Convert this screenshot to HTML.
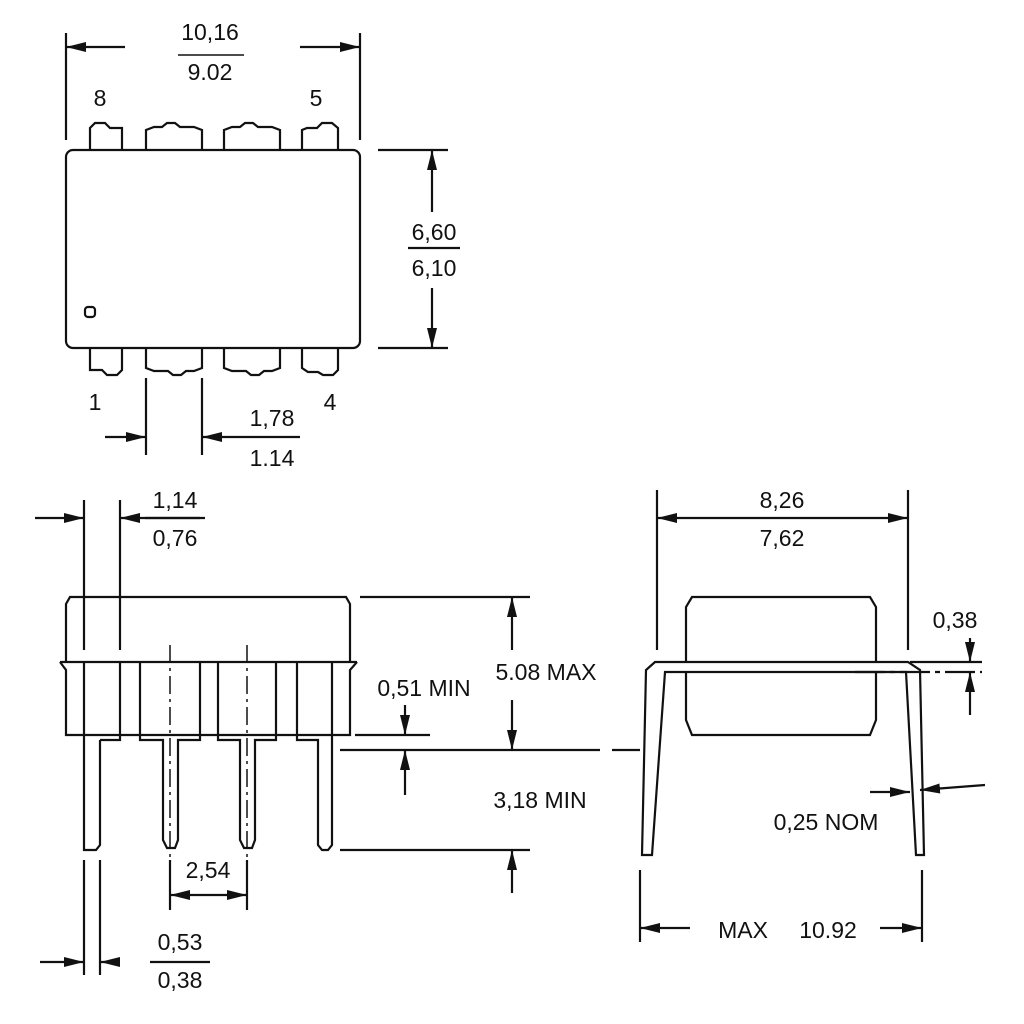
<!DOCTYPE html>
<html><head><meta charset="utf-8"><style>
html,body{margin:0;padding:0;background:#fff}
svg{display:block}
text{font-family:"Liberation Sans",sans-serif;font-size:23px;fill:#111;text-anchor:middle}
</style></head><body>
<svg width="1024" height="1024" viewBox="0 0 1024 1024" xmlns="http://www.w3.org/2000/svg">
<defs>
<marker id="a" viewBox="0 0 20 10" refX="20" refY="5" markerWidth="20" markerHeight="10" markerUnits="userSpaceOnUse" orient="auto-start-reverse"><path d="M0,0 L20,5 L0,10 z" fill="#111"/></marker>
</defs>
<g stroke="#111" stroke-width="2.2" fill="none">
<!-- TOP VIEW -->
<rect x="66" y="150" width="294" height="198" rx="7" fill="#fff"/>
<path d="M90,150 V128 l5,-5 h10 l5,5 h12 V150"/>
<path d="M146,150 V130 l8,-3 h8 l5,-4 h8 l5,4 h14 l8,3 V150"/>
<path d="M224,150 V130 l8,-3 h8 l5,-4 h8 l5,4 h14 l8,3 V150"/>
<path d="M302,150 V130 l5,-2 h10 l5,-5 h10 l6,5 V150"/>
<path d="M90,348 V370 h12 l5,5 h10 l5,-5 V348"/>
<path d="M146,348 V368 l8,3 h14 l5,4 h8 l5,-4 h8 l8,-3 V348"/>
<path d="M224,348 V368 l8,3 h14 l5,4 h8 l5,-4 h8 l8,-3 V348"/>
<path d="M302,348 V368 l6,4 h10 l5,3 h10 l5,-5 V348"/>
<rect x="85" y="307" width="10" height="10" rx="3"/>
<line x1="66" y1="33" x2="66" y2="140"/><line x1="360" y1="33" x2="360" y2="140"/>
<line x1="66" y1="47" x2="125" y2="47" marker-start="url(#a)"/><line x1="300" y1="47" x2="360" y2="47" marker-end="url(#a)"/>
<line x1="378" y1="150" x2="448" y2="150"/><line x1="378" y1="348" x2="448" y2="348"/>
<line x1="432" y1="150" x2="432" y2="212" marker-start="url(#a)"/><line x1="432" y1="288" x2="432" y2="348" marker-end="url(#a)"/>
<line x1="408" y1="248" x2="460" y2="248"/>
<line x1="146" y1="378" x2="146" y2="455"/><line x1="202" y1="378" x2="202" y2="455"/>
<line x1="105" y1="437" x2="146" y2="437" marker-end="url(#a)"/>
<line x1="300" y1="437" x2="202" y2="437" marker-end="url(#a)"/>
<line x1="178" y1="60" x2="244" y2="60" stroke-width="0"/>
<!-- SIDE VIEW -->
<path d="M66,662 V604 l4,-7 H346 l4,7 V662" fill="#fff"/>
<line x1="60" y1="662" x2="357" y2="662"/>
<path d="M60,662 l6,8 V735 H350 V670 l7,-8"/>
<path d="M84,662 V850 l4,0 h8 l4,-5 V740 M100,740 h20 V662"/>
<path d="M140,662 V740 h23 V840 l4,8 h8 l3,-8 V740 h22 V662"/>
<path d="M218,662 V740 h22 V840 l4,8 h8 l3,-8 V740 h21 V662"/>
<path d="M297,662 V740 h21 V845 l4,5 h6 l4,-5 V662"/>
<line x1="84" y1="500" x2="84" y2="650"/><line x1="120" y1="500" x2="120" y2="650"/>
<line x1="35" y1="518" x2="84" y2="518" marker-end="url(#a)"/>
<line x1="200" y1="518" x2="120" y2="518" marker-end="url(#a)"/>
<line x1="145" y1="518" x2="205" y2="518"/>
<path d="M170,645 V870 M247,645 V870" stroke-width="1.5" stroke-dasharray="18,5,3,5"/>
<line x1="170" y1="895" x2="247" y2="895" marker-start="url(#a)" marker-end="url(#a)"/>
<line x1="170" y1="860" x2="170" y2="910"/><line x1="247" y1="860" x2="247" y2="910"/>
<line x1="84" y1="860" x2="84" y2="975"/><line x1="100" y1="860" x2="100" y2="975"/>
<line x1="40" y1="962" x2="84" y2="962" marker-end="url(#a)"/>
<line x1="120" y1="962" x2="100" y2="962" marker-end="url(#a)"/>
<line x1="150" y1="962" x2="210" y2="962"/>
<line x1="360" y1="597" x2="530" y2="597"/>
<line x1="355" y1="735" x2="430" y2="735"/>
<line x1="340" y1="750" x2="600" y2="750"/><line x1="612" y1="750" x2="640" y2="750"/>
<line x1="340" y1="850" x2="530" y2="850"/>
<line x1="512" y1="597" x2="512" y2="650" marker-start="url(#a)"/>
<line x1="512" y1="700" x2="512" y2="750" marker-end="url(#a)"/>
<line x1="512" y1="893" x2="512" y2="850" marker-end="url(#a)"/>
<line x1="405" y1="705" x2="405" y2="735" marker-end="url(#a)"/>
<line x1="405" y1="795" x2="405" y2="750" marker-end="url(#a)"/>
<!-- END VIEW -->
<path d="M692,597 H870 l6,10 V720 l-6,15 H692 l-6,-15 V607 z" fill="#fff"/>
<path d="M655,662 H908 l12,8 L924,855 h-8 L906,672 H665 L652,855 h-10 l4,-185 z" fill="#fff"/>
<line x1="657" y1="490" x2="657" y2="650"/><line x1="908" y1="490" x2="908" y2="650"/>
<line x1="657" y1="518" x2="740" y2="518" marker-start="url(#a)"/>
<line x1="825" y1="518" x2="908" y2="518" marker-end="url(#a)"/>
<line x1="740" y1="518" x2="825" y2="518"/>
<line x1="640" y1="870" x2="640" y2="942"/><line x1="922" y1="870" x2="922" y2="942"/>
<line x1="640" y1="928" x2="690" y2="928" marker-start="url(#a)"/>
<line x1="880" y1="928" x2="922" y2="928" marker-end="url(#a)"/>
<line x1="910" y1="662" x2="982" y2="662"/><line x1="855" y1="672" x2="982" y2="672" stroke-dasharray="30,5,5,5"/>
<line x1="970" y1="638" x2="970" y2="662" marker-end="url(#a)"/>
<line x1="970" y1="715" x2="970" y2="672" marker-end="url(#a)"/>
<line x1="870" y1="792" x2="910" y2="792" marker-end="url(#a)"/>
<line x1="985" y1="785" x2="920" y2="790" marker-end="url(#a)"/>
</g>
<text x="210" y="40">10,16</text><text x="210" y="80">9.02</text>
<line x1="178" y1="55" x2="244" y2="55" stroke="#111" stroke-width="1.5"/>
<text x="100" y="106">8</text><text x="316" y="106">5</text>
<text x="95" y="410">1</text><text x="330" y="410">4</text>
<text x="434" y="240">6,60</text><text x="434" y="276">6,10</text>
<text x="272" y="426">1,78</text><text x="272" y="466">1.14</text>
<text x="175" y="508">1,14</text><text x="175" y="546">0,76</text>
<text x="180" y="950">0,53</text><text x="180" y="988">0,38</text>
<text x="208" y="878">2,54</text>
<text x="546" y="680">5.08 MAX</text>
<text x="424" y="696">0,51 MIN</text>
<text x="540" y="808">3,18 MIN</text>
<text x="782" y="508">8,26</text><text x="782" y="546">7,62</text>
<text x="955" y="628">0,38</text>
<text x="826" y="830">0,25 NOM</text>
<text x="743" y="938">MAX</text><text x="828" y="938">10.92</text>
</svg>
</body></html>
